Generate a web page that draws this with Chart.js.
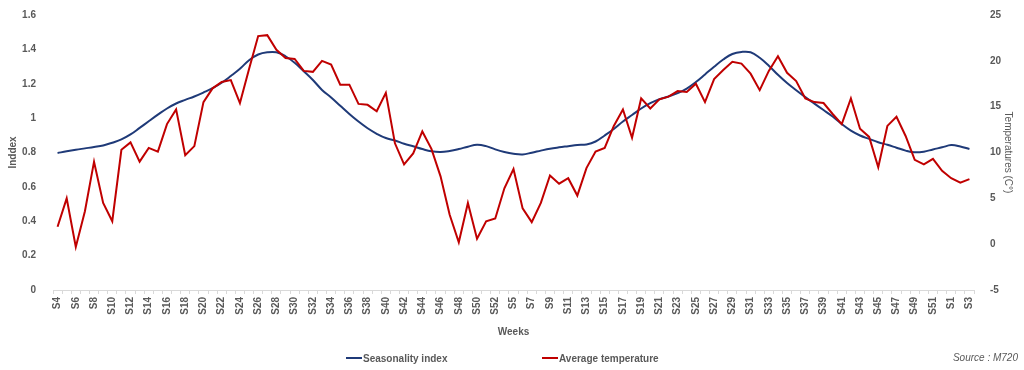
<!DOCTYPE html>
<html>
<head>
<meta charset="utf-8">
<script src="https://cdn.jsdelivr.net/npm/chart.js@4"></script>
<style>
  html, body { margin: 0; padding: 0; background: #fff; }
  #wrap { position: relative; width: 1024px; height: 370px; font-family: "Liberation Sans", Arial, sans-serif; }
  .leg { position: absolute; top: 353px; font-size: 10px; font-weight: bold; color: #595959; line-height: 12px; white-space: nowrap; }
  .leg i { display: inline-block; width: 16px; height: 2px; vertical-align: middle; margin-right: 1px; margin-top: -2px; }
  #source { position: absolute; top: 352px; right: 6px; font-size: 10px; font-style: italic; color: #595959; }
</style>
</head>
<body>
<div id="wrap">
  <canvas id="chart" width="1024" height="370"></canvas>
  <div class="leg" style="left:346px"><i style="background:#1f3a78"></i>Seasonality index</div>
  <div class="leg" style="left:542px"><i style="background:#c00000"></i>Average temperature</div>
  <div id="source">Source : M720</div>
</div>
<script>
// weeks: S4..S52, then S4..S52 again, then S1..S3
const weeks = [
  'S4','S5','S6','S7','S8','S9','S10','S11','S12','S13','S14','S15','S16','S17','S18','S19','S20',
  'S21','S22','S23','S24','S25','S26','S27','S28','S29','S30','S31','S32','S33','S34','S35','S36',
  'S37','S38','S39','S40','S41','S42','S43','S44','S45','S46','S47','S48','S49','S50','S51','S52',
  'S4','S5','S6','S7','S8','S9','S10','S11','S12','S13','S14','S15','S16','S17','S18','S19','S20',
  'S21','S22','S23','S24','S25','S26','S27','S28','S29','S30','S31','S32','S33','S34','S35','S36',
  'S37','S38','S39','S40','S41','S42','S43','S44','S45','S46','S47','S48','S49','S50','S51','S52',
  'S1','S2','S3'
];

const seasonalityIndex = [
  0.797, 0.807, 0.816, 0.824, 0.832, 0.841, 0.857, 0.876, 0.905, 0.943,
  0.982, 1.020, 1.056, 1.085, 1.106, 1.126, 1.149, 1.174, 1.206, 1.245,
  1.287, 1.337, 1.370, 1.383, 1.383, 1.360, 1.322, 1.273, 1.222, 1.164,
  1.120, 1.072, 1.024, 0.980, 0.941, 0.909, 0.884, 0.870, 0.851, 0.836,
  0.820, 0.807, 0.803, 0.809, 0.820, 0.834, 0.845, 0.837, 0.818, 0.803,
  0.793, 0.789, 0.799, 0.811, 0.822, 0.830, 0.837, 0.844, 0.847, 0.864,
  0.899, 0.937, 0.980, 1.018, 1.056, 1.087, 1.110, 1.126, 1.145, 1.172,
  1.210, 1.254, 1.299, 1.341, 1.373, 1.385, 1.383, 1.351, 1.305, 1.252,
  1.204, 1.162, 1.122, 1.084, 1.047, 1.009, 0.965, 0.927, 0.899, 0.879,
  0.860, 0.845, 0.828, 0.811, 0.801, 0.805, 0.818, 0.830, 0.843, 0.835,
  0.820
];

const avgTemperature = [
  1.9, 5.0, -0.3, 3.6, 9.0, 4.5, 2.5, 10.3, 11.1, 9.0,
  10.5, 10.1, 13.1, 14.7, 9.7, 10.7, 15.5, 17.0, 17.7, 17.9,
  15.4, 19.1, 22.7, 22.8, 21.2, 20.3, 20.2, 18.9, 18.8, 20.0,
  19.6, 17.4, 17.4, 15.3, 15.2, 14.5, 16.5, 11.0, 8.7, 9.9,
  12.3, 10.4, 7.4, 3.2, 0.2, 4.5, 0.6, 2.5, 2.8, 6.1,
  8.2, 3.9, 2.4, 4.5, 7.5, 6.6, 7.2, 5.3, 8.3, 10.1,
  10.5, 12.9, 14.7, 11.6, 15.9, 14.8, 15.8, 16.1, 16.7, 16.6,
  17.5, 15.5, 18.0, 19.0, 19.9, 19.7, 18.6, 16.8, 18.9, 20.5,
  18.7, 17.8, 15.9, 15.5, 15.4, 14.2, 13.1, 15.9, 12.6, 11.7,
  8.4, 12.9, 13.9, 11.8, 9.2, 8.7, 9.3, 8.0, 7.2, 6.7,
  7.1
];

const gray = '#595959';
Chart.defaults.font.family = '"Liberation Sans", Arial, sans-serif';
Chart.defaults.font.size = 10;
Chart.defaults.color = gray;

new Chart(document.getElementById('chart'), {
  type: 'line',
  data: {
    labels: weeks,
    datasets: [
      {
        label: 'Average temperature',
        data: avgTemperature,
        yAxisID: 'yTemp',
        borderColor: '#c00000',
        borderWidth: 2,
        pointRadius: 0,
        tension: 0,
        order: 0
      },
      {
        label: 'Seasonality index',
        data: seasonalityIndex,
        yAxisID: 'y',
        borderColor: '#1f3a78',
        borderWidth: 2,
        pointRadius: 0,
        tension: 0.4,
        order: 1
      }
    ]
  },
  options: {
    responsive: false,
    animation: false,
    devicePixelRatio: 1,
    layout: { padding: { left: 3, right: 6, top: 3, bottom: 30 } },
    plugins: { legend: { display: false }, tooltip: { enabled: false } },
    scales: {
      x: {
        offset: true,
        grid: { offset: true, drawOnChartArea: false, drawTicks: true, tickLength: 4, color: '#d9d9d9' },
        border: { color: '#d9d9d9' },
        ticks: {
          autoSkip: false, minRotation: 90, maxRotation: 90, padding: 3,
          font: { weight: 'bold' },
          callback: function (v, i) { return i % 2 === 0 ? this.getLabelForValue(v) : ''; }
        },
        title: { display: true, text: 'Weeks', font: { weight: 'bold' }, padding: { top: 0, bottom: 2 } },
        afterFit: (s) => { s.height = 50; }
      },
      y: {
        position: 'left',
        min: 0, max: 1.6,
        grid: { display: false },
        border: { display: false },
        ticks: {
          stepSize: 0.2, padding: 9, font: { weight: 'bold' },
          callback: (v) => String(Math.round(v * 10) / 10)
        },
        title: { display: true, text: 'Inddex', font: { weight: 'bold' } },
        afterFit: (s) => { s.width = 50; }
      },
      yTemp: {
        position: 'right',
        min: -5, max: 25,
        grid: { display: false },
        border: { display: false },
        ticks: { stepSize: 5, padding: 8, font: { weight: 'bold' } },
        title: { display: true, text: 'Temperatures (C°)' },
        afterFit: (s) => { s.width = 44; }
      }
    }
  }
});
</script>
</body>
</html>
